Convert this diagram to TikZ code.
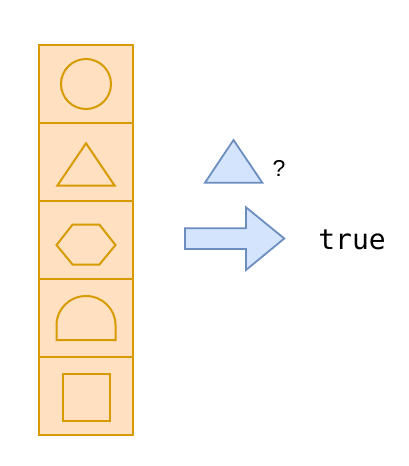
\documentclass[tikz,border=0pt]{standalone}
\usepackage{fontspec}
\newfontfamily\codefont{DejaVu Sans Mono}
\newfontfamily\markfont{Liberation Sans}
\usepackage{xcolor}
\usepackage{tikz}
\usetikzlibrary{positioning}
\usetikzlibrary{calc}
\definecolor{cellfill}{HTML}{FFE0C0}
\definecolor{cellline}{HTML}{D79B00}
\definecolor{queryfill}{HTML}{D4E4FC}
\definecolor{queryline}{HTML}{6C8EBF}

\begin{document}
\begin{tikzpicture}[
        x=1pt, y=-1pt,
        cell/.style={rectangle, minimum width=94pt, minimum height=78pt, inner sep=0pt, outer sep=0pt, draw=cellline, fill=cellfill, line width=2pt},
        glyph/.style={draw=cellline, line width=2pt, line join=miter},
        query/.style={draw=queryline, fill=queryfill, line width=1.8pt, line join=miter}
    ]
        \useasboundingbox (0,0) rectangle (408,466);

        % ===== 形状列表 =====
        \node (cellCircle) [cell] at (86,84) {};
        \node (cellTriangle) [cell, below=0pt of cellCircle] {};
        \node (cellHexagon) [cell, below=0pt of cellTriangle] {};
        \node (cellDome) [cell, below=0pt of cellHexagon] {};
        \node (cellSquare) [cell, below=0pt of cellDome] {};

        % ===== 单元内的形状 =====
        \draw [glyph] (cellCircle.center) circle [radius=25];
        \draw [glyph] ($(cellTriangle.center)+(-28.7,23.7)$) -- ($(cellTriangle.center)+(0,-18.7)$)
            -- ($(cellTriangle.center)+(28.7,23.7)$) -- cycle;
        \draw [glyph] ($(cellHexagon.center)+(-29.5,5)$) -- ($(cellHexagon.center)+(-13.3,-15.5)$)
            -- ($(cellHexagon.center)+(13.3,-15.5)$) -- ($(cellHexagon.center)+(29.5,5)$)
            -- ($(cellHexagon.center)+(13.3,24.7)$) -- ($(cellHexagon.center)+(-13.3,24.7)$) -- cycle;
        \draw [glyph] ($(cellDome.center)+(-29.5,22)$) -- ($(cellDome.center)+(-29.5,7)$)
            arc [start angle=180, end angle=360, x radius=29.5, y radius=29]
            -- ($(cellDome.center)+(29.5,22)$) -- cycle;
        \draw [glyph] ($(cellSquare.center)+(-23.5,-21.7)$) rectangle ($(cellSquare.center)+(23.5,25)$);

        % ===== 查询 =====
        \draw [query] (205,182.7) coordinate (queryLeft) -- (233.5,140) coordinate (queryTop)
            -- (262.3,182.7) coordinate (queryRight) -- cycle;
        \node (queryMark) [font=\markfont\fontsize{23}{27}\selectfont, anchor=base] at (279,176.7) {?};

        % ===== 结果 =====
        \draw [query] (185,228.3) -- (246,228.3) -- (246,207.3) -- (284.3,238.5)
            -- (246,270) -- (246,249) -- (185,249) -- cycle;
        \node (result) [font=\codefont\fontsize{28}{32}\selectfont, anchor=base] at (352,249.3) {true};

    \end{tikzpicture}
\end{document}
